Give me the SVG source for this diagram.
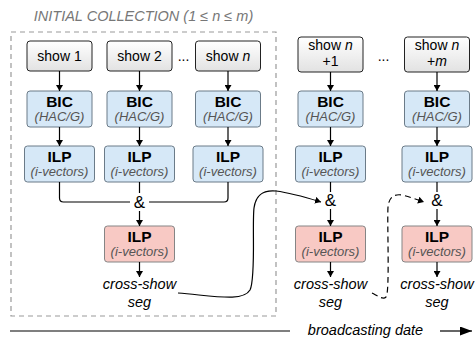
<svg xmlns="http://www.w3.org/2000/svg" width="476" height="338" viewBox="0 0 476 338">
<defs>
<linearGradient id="gshow" x1="0" y1="0" x2="0" y2="1">
<stop offset="0" stop-color="#ffffff"/>
<stop offset="1" stop-color="#e2e2e2"/>
</linearGradient>
<marker id="ah" markerWidth="6" markerHeight="7" refX="6" refY="3.5" orient="auto" markerUnits="userSpaceOnUse">
<path d="M0,0 L6,3.5 L0,7 z" fill="#000"/>
</marker>
<marker id="ahbig" markerWidth="12" markerHeight="9" refX="12" refY="4.5" orient="auto" markerUnits="userSpaceOnUse">
<path d="M0,0 L12,4.5 L0,9 z" fill="#000"/>
</marker>
</defs>
<style>
text{font-family:"Liberation Sans",Arial,sans-serif;text-anchor:middle;fill:#000}
.show{fill:url(#gshow);stroke:#222;stroke-width:1}
.blue{fill:#d6e8f7;stroke:#6b7b88;stroke-width:1}
.red{fill:#f8c9c4;stroke:#858585;stroke-width:1}
.lbl{font-size:14px}
.bold{font-size:15.5px;font-weight:bold}
.sub{font-size:13px;font-style:italic;fill:#555}
.it{font-size:14.5px;font-style:italic}
.amp{font-size:17px}
.conn{fill:none;stroke:#000;stroke-width:1.2}
.arr{fill:none;stroke:#000;stroke-width:1.2;marker-end:url(#ah)}
</style>
<rect x="11" y="32" width="265" height="284" fill="none" stroke="#999" stroke-width="1.2" stroke-dasharray="5,4"/>
<text x="143.5" y="21" style="font-size:14.5px;font-style:italic;fill:#777">INITIAL COLLECTION (1 ≤ n ≤ m)</text>

<g id="show1"><rect class="show" x="27" y="41" width="65" height="30" rx="3"/><text class="lbl" x="59.5" y="61">show 1</text></g>
<g id="show2"><rect class="show" x="107" y="41" width="65" height="30" rx="3"/><text class="lbl" x="139.5" y="61">show 2</text></g>
<g id="shown"><rect class="show" x="195.5" y="41" width="65" height="30" rx="3"/><text class="lbl" x="228" y="61">show <tspan font-style="italic">n</tspan></text></g>
<text class="lbl" x="183.5" y="61">...</text>
<g id="shown1"><rect class="show" x="298" y="37" width="65" height="35" rx="3"/><text class="lbl" x="330.5" y="50">show <tspan font-style="italic">n</tspan></text><text class="lbl" x="330.5" y="66">+1</text></g>
<text class="lbl" x="383.5" y="61">...</text>
<g id="shownm"><rect class="show" x="404.5" y="37" width="65" height="35" rx="3"/><text class="lbl" x="437" y="50">show <tspan font-style="italic">n</tspan></text><text class="lbl" x="437" y="66">+<tspan font-style="italic">m</tspan></text></g>

<g id="bic1"><rect class="blue" x="27" y="91" width="65" height="36" rx="3"/><text class="bold" x="59.5" y="107">BIC</text><text class="sub" x="59.5" y="121">(HAC/G)</text></g>
<g id="bic2"><rect class="blue" x="107" y="91" width="65" height="36" rx="3"/><text class="bold" x="139.5" y="107">BIC</text><text class="sub" x="139.5" y="121">(HAC/G)</text></g>
<g id="bicn"><rect class="blue" x="195.5" y="91" width="65" height="36" rx="3"/><text class="bold" x="228" y="107">BIC</text><text class="sub" x="228" y="121">(HAC/G)</text></g>
<g id="bicn1"><rect class="blue" x="298" y="91" width="65" height="36" rx="3"/><text class="bold" x="330.5" y="107">BIC</text><text class="sub" x="330.5" y="121">(HAC/G)</text></g>
<g id="bicnm"><rect class="blue" x="404.5" y="91" width="65" height="36" rx="3"/><text class="bold" x="437" y="107">BIC</text><text class="sub" x="437" y="121">(HAC/G)</text></g>

<g id="ilp1"><rect class="blue" x="24.5" y="146" width="70" height="36" rx="3"/><text class="bold" x="59.5" y="162">ILP</text><text class="sub" x="59.5" y="176">(i-vectors)</text></g>
<g id="ilp2"><rect class="blue" x="104.5" y="146" width="70" height="36" rx="3"/><text class="bold" x="139.5" y="162">ILP</text><text class="sub" x="139.5" y="176">(i-vectors)</text></g>
<g id="ilpn"><rect class="blue" x="193" y="146" width="70" height="36" rx="3"/><text class="bold" x="228" y="162">ILP</text><text class="sub" x="228" y="176">(i-vectors)</text></g>
<g id="ilpn1"><rect class="blue" x="295.5" y="146" width="70" height="36" rx="3"/><text class="bold" x="330.5" y="162">ILP</text><text class="sub" x="330.5" y="176">(i-vectors)</text></g>
<g id="ilpnm"><rect class="blue" x="402" y="146" width="70" height="36" rx="3"/><text class="bold" x="437" y="162">ILP</text><text class="sub" x="437" y="176">(i-vectors)</text></g>

<g id="cross1"><rect class="red" x="104.5" y="226" width="70" height="36" rx="3"/><text class="bold" x="139.5" y="242">ILP</text><text class="sub" x="139.5" y="256">(i-vectors)</text></g>
<g id="cross2"><rect class="red" x="295.5" y="226" width="70" height="36" rx="3"/><text class="bold" x="330.5" y="242">ILP</text><text class="sub" x="330.5" y="256">(i-vectors)</text></g>
<g id="cross3"><rect class="red" x="402" y="226" width="70" height="36" rx="3"/><text class="bold" x="437" y="242">ILP</text><text class="sub" x="437" y="256">(i-vectors)</text></g>

<g id="seg1"><text class="it" x="139.5" y="289">cross-show</text><text class="it" x="139.5" y="307">seg</text></g>
<g id="seg2"><text class="it" x="330.5" y="289">cross-show</text><text class="it" x="330.5" y="307">seg</text></g>
<g id="seg3"><text class="it" x="437" y="289">cross-show</text><text class="it" x="437" y="307">seg</text></g>

<g id="amps">
<text class="amp" x="139.5" y="208">&amp;</text>
<text class="amp" x="330.5" y="206">&amp;</text>
<text class="amp" x="437" y="206">&amp;</text>
</g>

<g id="connectors">
<path class="arr" d="M59.5,71 V91"/>
<path class="arr" d="M139.5,71 V91"/>
<path class="arr" d="M228,71 V91"/>
<path class="arr" d="M330.5,72 V91"/>
<path class="arr" d="M437,72 V91"/>
<path class="arr" d="M59.5,127 V146"/>
<path class="arr" d="M139.5,127 V146"/>
<path class="arr" d="M228,127 V146"/>
<path class="arr" d="M330.5,127 V146"/>
<path class="arr" d="M437,127 V146"/>
<path class="conn" d="M59.5,182 V198 Q59.5,202 63.5,202 H130"/>
<path class="conn" d="M149,202 H224 Q228,202 228,198 V182"/>
<path class="conn" d="M139.5,182 V193"/>
<path class="conn" d="M330.5,182 V192"/>
<path class="conn" d="M437,182 V192"/>
<path class="arr" d="M139.5,211 V226"/>
<path class="arr" d="M330.5,209 V226"/>
<path class="arr" d="M437,209 V226"/>
<path class="arr" d="M139.5,262 V277"/>
<path class="arr" d="M330.5,262 V277"/>
<path class="arr" d="M437,262 V277"/>
<path class="arr" d="M178,293 C215,296 243,302 250,290 C256,278 252,225 254,208 C256,193 265,190 276,191 C292,193 308,198 321,202"/>
<path class="arr" stroke-dasharray="6,4" d="M372,293 C378,296 383,300 386,297 C390,293 387,222 388,207 C389,196 395,194 402,195 C410,197 418,200 424,202"/>
<path class="conn" d="M10,331 H290"/>
<path fill="none" stroke="#000" stroke-width="1.2" marker-end="url(#ahbig)" d="M440,331 H472"/>
</g>
<text class="it" x="365.5" y="335">broadcasting date</text>
</svg>
